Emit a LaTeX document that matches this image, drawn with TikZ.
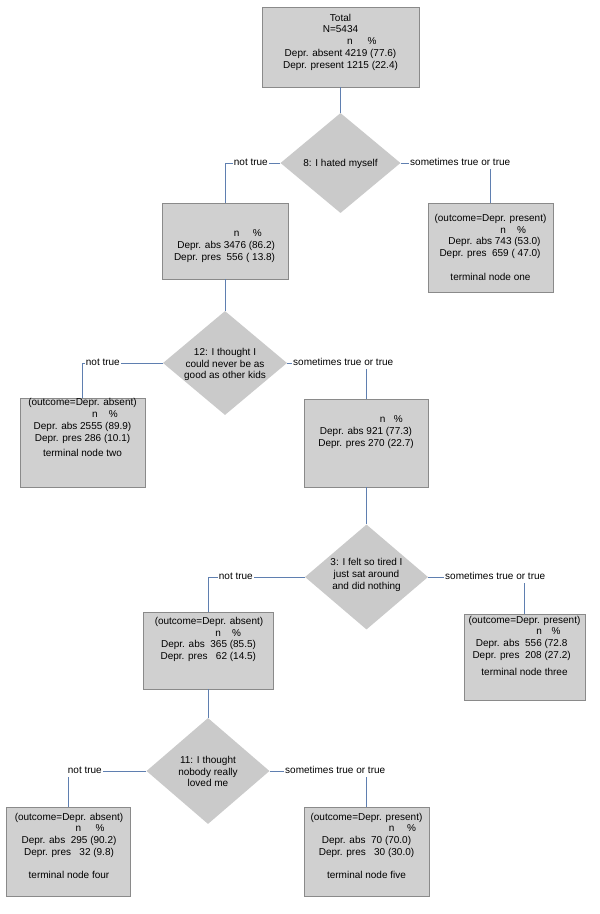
\documentclass[tikz,border=0pt]{standalone}
\usepackage{fontspec}
\setmainfont{Liberation Sans}
\usetikzlibrary{shapes.geometric}
\definecolor{boxfill}{HTML}{D0D0D0}
\definecolor{boxline}{HTML}{8A8A8A}
\definecolor{diafill}{HTML}{CACACA}
\definecolor{conncol}{HTML}{5F7FB0}
\newcommand{\RB}[2]{\makebox[#1][r]{#2}}
\begin{document}
\begin{tikzpicture}[x=1pt,y=-1pt,
  every node/.style={font=\fontsize{10}{11.7}\selectfont},
  bx/.style 2 args={draw=boxline, fill=boxfill, line width=0.7pt, inner sep=0pt,
    minimum width=#1, minimum height=#2},
  dia/.style 2 args={diamond, fill=diafill, draw=none, inner sep=0pt, aspect=1,
    minimum width=#1, minimum height=#2},
  txt/.style={align=center, inner sep=0pt},
  conn/.style={draw=conncol, line width=0.8pt},
  lab/.style={fill=white, inner sep=1pt, text height=7.2pt, text depth=2pt}]
\fill[white] (0,0) rectangle (600,914);
\useasboundingbox (0,0) rectangle (600,914);

% boxes
\node[bx={157pt}{80pt}] (root) at (340.5,47) {};
\node[bx={126pt}{76pt}] (b1) at (225,241) {};
\node[bx={125pt}{89pt}] (t1) at (490.5,247.5) {};
\node[bx={125pt}{89pt}] (t2) at (82.5,442.5) {};
\node[bx={124pt}{88pt}] (b2) at (366.5,443) {};
\node[bx={130pt}{77pt}] (b3) at (208,650.5) {};
\node[bx={121pt}{86pt}] (t3) at (524.5,657) {};
\node[bx={124pt}{89pt}] (t4) at (68.5,851.5) {};
\node[bx={125pt}{89pt}] (t5) at (366.5,851.5) {};

% diamonds
\node[dia={120pt}{100pt}] (d1) at (340.5,163) {};
\node[dia={124pt}{104pt}] (d2) at (225,363) {};
\node[dia={123pt}{105pt}] (d3) at (366.5,577) {};
\node[dia={123pt}{106pt}] (d4) at (208,771) {};

% box texts
\node[txt] (roott) at (340.5,42.3) {\strut Total\\N=5434\\\hspace*{42.6pt}n\hspace{14.9pt}\%\\Depr. absent 4219 (77.6)\\Depr. present 1215 (22.4)\strut};
\node[txt] (b1t) at (225,246) {\strut\RB{100pt}{n\hspace{13.4pt}\%\hspace*{13.3pt}}\\\RB{100pt}{Depr. abs 3476 (86.2)}\\\RB{100pt}{Depr. pres~~556 (~13.8)}\strut};
\node[txt] (t1t) at (490.5,248.8) {\strut(outcome=Depr. present)\\\RB{100pt}{n\hspace{11.3pt}\%\hspace*{14.5pt}}\\\RB{100pt}{Depr. abs 743 (53.0)}\\\RB{100pt}{Depr. pres~~659 (~47.0)}\\[12.3pt]terminal node one\strut};
\node[txt] (t2t) at (82.5,428.7) {\strut(outcome=Depr. absent)\\\hspace*{45pt}n\hspace{11.1pt}\%\\Depr. abs 2555 (89.9)\\Depr. pres 286 (10.1)\\[3.3pt]terminal node two\strut};
\node[txt] (b2t) at (366,432.2) {\strut\hspace*{50.6pt}n\hspace{8.4pt}\%\\Depr. abs 921 (77.3)\\Depr. pres 270 (22.7)\strut};
\node[txt] (b3t) at (209,639.7) {\strut(outcome=Depr. absent)\\\RB{94pt}{n\hspace{11.2pt}\%\hspace*{15pt}}\\\RB{94pt}{Depr. abs~~365 (85.5)}\\\RB{94pt}{Depr. pres~~~62 (14.5)}\strut};
\node[txt] (t3t) at (524.5,647.1) {\strut(outcome=Depr. present)\\\RB{92.4pt}{n\hspace{9.5pt}\%\hspace*{10.3pt}}\\\RB{92.4pt}{Depr. abs~~556 (72.8\hspace*{3.3pt}}\\\RB{92.4pt}{Depr. pres~~208 (27.2)}\\[5.7pt]terminal node three\strut};
\node[txt] (t4t) at (69,847.1) {\strut(outcome=Depr. absent)\\\hspace*{42pt}n\hspace{14.5pt}\%\\Depr. abs~~295 (90.2)\\Depr. pres~~~32 (9.8)\\[11.6pt]terminal node four\strut};
\node[txt] (t5t) at (366.5,847.1) {\strut(outcome=Depr. present)\\\hspace*{72pt}n\hspace{12.8pt}\%\\Depr. abs~~70 (70.0)\\Depr. pres~~~30 (30.0)\\[11.6pt]terminal node five\strut};

% diamond texts
\node[txt] (d1t) at (340.5,164.2) {\strut 8: I hated myself\strut};
\node[txt] (d2t) at (225,364.7) {\strut 12: I thought I\\could never be as\\good as other kids\strut};
\node[txt] (d3t) at (366.5,575.2) {\strut 3: I felt so tired I\\just sat around\\and did nothing\strut};
\node[txt] (d4t) at (208,772.7) {\strut 11: I thought\\nobody really\\loved me\strut};

% connectors
\draw[conn] (root.south) -- (d1.north);
\draw[conn] (d1.west) -| (b1.north);
\draw[conn] (d1.east) -| (t1.north);
\draw[conn] (b1.south) -- (d2.north);
\draw[conn] (d2.west) -| (t2.north);
\draw[conn] (d2.east) -| (b2.north);
\draw[conn] (b2.south) -- (d3.north);
\draw[conn] (d3.west) -| (b3.north);
\draw[conn] (d3.east) -| (t3.north);
\draw[conn] (b3.south) -- (d4.north);
\draw[conn] (d4.west) -| (t4.north);
\draw[conn] (d4.east) -| (t5.north);

% labels
\node[lab, anchor=east] (l1a) at (269,163) {not true};
\node[lab, anchor=west] (l1b) at (409,163) {sometimes true or true};
\node[lab, anchor=east] (l2a) at (121,363) {not true};
\node[lab, anchor=west] (l2b) at (292,363) {sometimes true or true};
\node[lab, anchor=east] (l3a) at (254,577) {not true};
\node[lab, anchor=west] (l3b) at (444,577) {sometimes true or true};
\node[lab, anchor=east] (l4a) at (103,771) {not true};
\node[lab, anchor=west] (l4b) at (284,771) {sometimes true or true};
\end{tikzpicture}
\end{document}
